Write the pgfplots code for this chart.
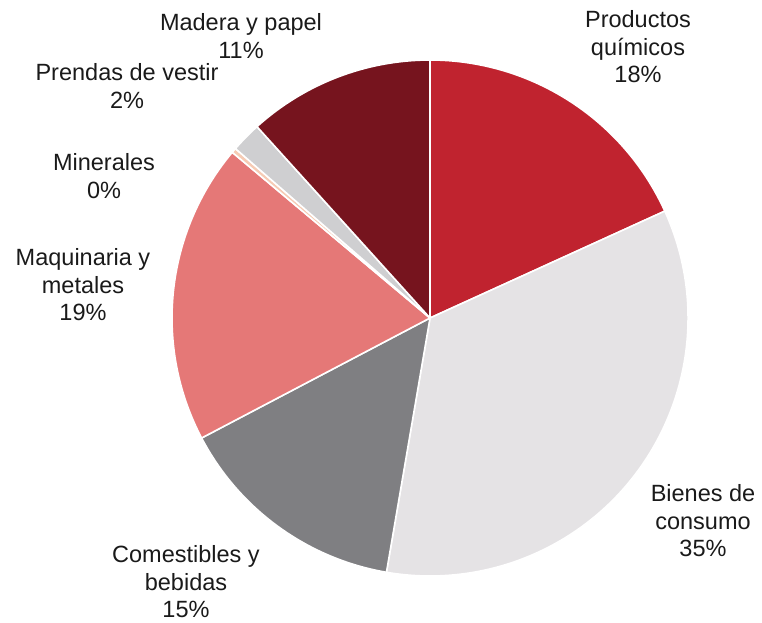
\documentclass[border=0pt]{standalone}
\usepackage{pgfplots}
\usepackage{pgfplotstable}
\pgfplotsset{compat=1.18}
\usepackage{fontspec}
\setmainfont{Liberation Sans}
\definecolor{c0}{HTML}{C0232F}
\definecolor{c1}{HTML}{E5E3E5}
\definecolor{c2}{HTML}{7F7F82}
\definecolor{c3}{HTML}{E57877}
\definecolor{c4}{HTML}{F6CBB4}
\definecolor{c5}{HTML}{CFCFD1}
\definecolor{c6}{HTML}{76141E}
\definecolor{txt}{HTML}{1A1A1A}
\pgfplotstableread[col sep=comma]{
label,value
Productos quimicos,18.2
Bienes de consumo,34.5
Comestibles y bebidas,14.6
Maquinaria y metales,18.8
Minerales,0.3
Prendas de vestir,1.9
Madera y papel,11.7
}\piedata
\begin{document}
\begin{tikzpicture}
\begin{axis}[
  scale only axis, width=762pt, height=622pt,
  xmin=0, xmax=762, ymin=0, ymax=622,
  axis lines=none, clip=false,
]
\pgfmathsetmacro\curang{90}
\pgfplotsforeachungrouped \i in {0,...,6} {
  \pgfplotstablegetelem{\i}{value}\of\piedata
  \let\v\pgfplotsretval
  \pgfmathsetmacro\endang{\curang - 3.6*\v}
  \edef\cmd{\noexpand\fill[fill=c\i, draw=white, line width=1.6pt, line join=round] (axis cs:430,304) -- ++(\curang:258pt) arc[start angle=\curang, end angle=\endang, radius=258pt] -- cycle;}
  \cmd
  \global\let\curang\endang
}
\tikzset{lbl/.style={align=center, text=txt, font=\fontsize{23.5}{27.5}\selectfont, inner sep=0pt}}
\node[lbl] at (axis cs:638,575) {Productos\\químicos\\18\%};
\node[lbl] at (axis cs:703,101) {Bienes de\\consumo\\35\%};
\node[lbl] at (axis cs:186,40) {Comestibles y\\bebidas\\15\%};
\node[lbl] at (axis cs:83,337) {Maquinaria y\\metales\\19\%};
\node[lbl] at (axis cs:104,446) {Minerales\\0\%};
\node[lbl] at (axis cs:127,536) {Prendas de vestir\\2\%};
\node[lbl] at (axis cs:241,586) {Madera y papel\\11\%};
\end{axis}
\pgfresetboundingbox
\path[use as bounding box] (current axis.south west) rectangle (current axis.north east);
\end{tikzpicture}
\end{document}
